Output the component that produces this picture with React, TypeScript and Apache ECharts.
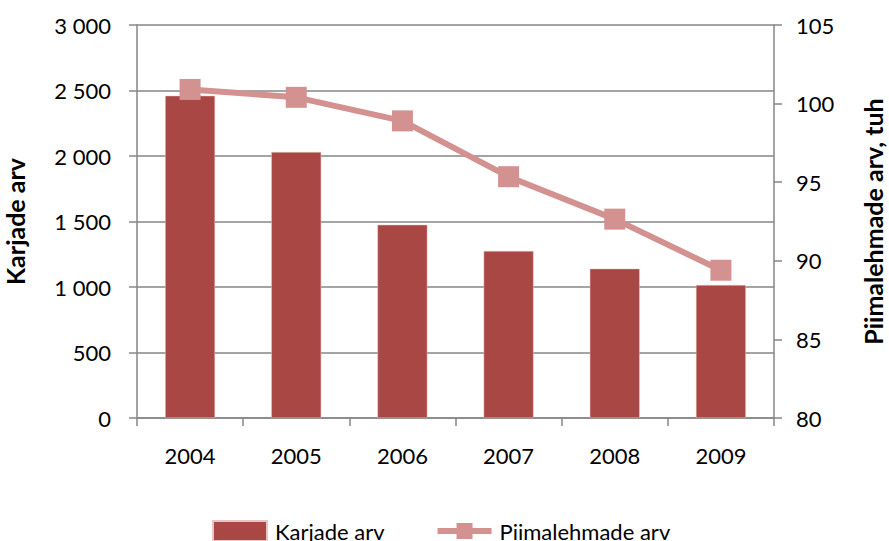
import React, { useEffect, useRef } from "react";
import * as echarts from "echarts";

const years = ["2004", "2005", "2006", "2007", "2008", "2009"];
const karjadeArv = [2460, 2030, 1475, 1275, 1140, 1015];
const piimalehmadeArv = [100.9, 100.4, 98.9, 95.35, 92.65, 89.4];

const FONT = "Lato";

export default function App() {
  const ref = useRef<HTMLDivElement>(null);
  useEffect(() => {
    if (!ref.current) return;
    const chart = echarts.init(ref.current, undefined, { renderer: "svg" });
    const fmt = (v: number) =>
      v >= 1000 ? `${Math.floor(v / 1000)} ${String(v % 1000).padStart(3, "0")}` : String(v);
    chart.setOption({
      animation: false,
      backgroundColor: "#ffffff",
      textStyle: { fontFamily: FONT },
      grid: {
        left: 137,
        right: 115,
        top: 25,
        bottom: 123,
        containLabel: false,
        outerBoundsMode: "none",
      },
      legend: {
        bottom: -1,
        left: 212,
        padding: 0,
        itemGap: 50,
        itemWidth: 54,
        itemHeight: 20,
        textStyle: { fontFamily: FONT, fontSize: 22, color: "#000", padding: [0, 0, 0, 3] },
        data: [
          { name: "Karjade arv", icon: "rect" },
          { name: "Piimalehmade arv", lineStyle: { width: 6 } },
        ],
      },
      xAxis: {
        type: "category",
        data: years,
        boundaryGap: true,
        axisLine: { lineStyle: { color: "#868686", width: 1.5 } },
        axisTick: { show: true, length: 8, lineStyle: { color: "#868686", width: 1.5 } },
        axisLabel: { color: "#000", fontSize: 22, fontFamily: FONT, margin: 26 },
      },
      yAxis: [
        {
          type: "value",
          min: 0,
          max: 3000,
          interval: 500,
          name: "Karjade arv",
          nameLocation: "middle",
          nameRotate: 90,
          nameGap: 110,
          nameTextStyle: { fontFamily: FONT, fontSize: 25, fontWeight: "bold", color: "#000" },
          axisLine: { show: true, lineStyle: { color: "#868686", width: 1.5 } },
          axisTick: { show: true, length: 8, lineStyle: { color: "#868686", width: 1.5 } },
          splitLine: { show: true, lineStyle: { color: "#868686", width: 1.5 } },
          axisLabel: { color: "#000", fontSize: 22, fontFamily: FONT, margin: 26, formatter: fmt },
        },
        {
          type: "value",
          min: 80,
          max: 105,
          interval: 5,
          position: "right",
          name: "Piimalehmade arv, tuh",
          nameLocation: "middle",
          nameRotate: 90,
          nameGap: 86,
          nameTextStyle: { fontFamily: FONT, fontSize: 25, fontWeight: "bold", color: "#000" },
          axisLine: { show: true, lineStyle: { color: "#868686", width: 1.5 } },
          axisTick: { show: true, length: 8, lineStyle: { color: "#868686", width: 1.5 } },
          splitLine: { show: false },
          axisLabel: { color: "#000", fontSize: 22, fontFamily: FONT, margin: 22 },
        },
      ],
      series: [
        {
          name: "Karjade arv",
          type: "bar",
          yAxisIndex: 0,
          data: karjadeArv,
          barWidth: "47%",
          itemStyle: { color: "#A94745", borderColor: "#E8C4C3", borderWidth: 0.5 },
        },
        {
          name: "Piimalehmade arv",
          type: "line",
          yAxisIndex: 1,
          data: piimalehmadeArv,
          symbol: "rect",
          symbolSize: 21,
          lineStyle: { color: "#D39190", width: 6 },
          itemStyle: { color: "#D39190" },
        },
      ],
    });
    return () => chart.dispose();
  }, []);
  return <div ref={ref} style={{ width: 889, height: 541, position: "absolute", left: 0, top: 0 }} />;
}
